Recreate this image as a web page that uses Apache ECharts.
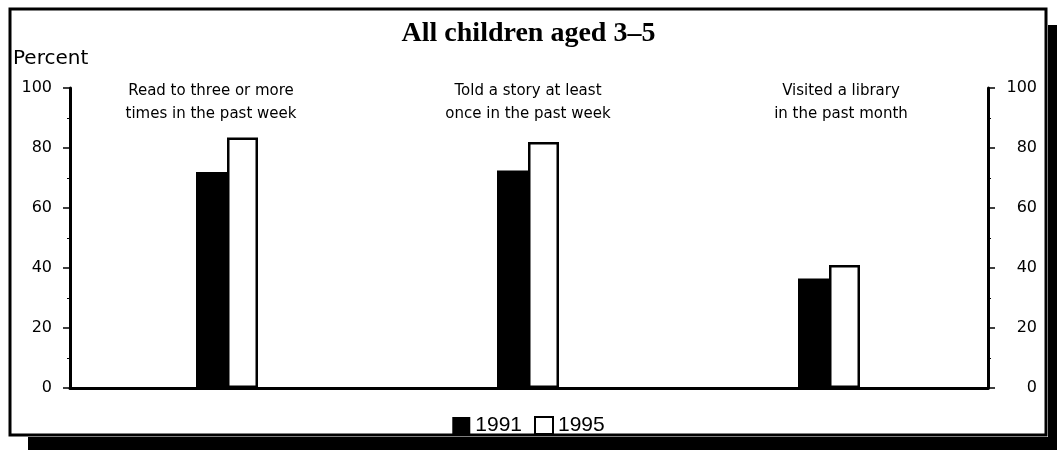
<!DOCTYPE html>
<html>
<head>
<meta charset="utf-8">
<script src="https://cdn.jsdelivr.net/npm/echarts@6/dist/echarts.min.js"></script>
<style>
	html, body { margin: 0; padding: 0; background: #fff; }
	#chart { width: 1057px; height: 450px; }
</style>
</head>
<body>
<div id="chart"></div>
<script>
// categories and values
var categories = [
	'Read to three or more\ntimes in the past week',
	'Told a story at least\nonce in the past week',
	'Visited a library\nin the past month'
];
var values1991 = [72, 72.5, 36.5];
var values1995 = [83.5, 82, 41];
var seriesNames = ['1991', '1995'];

// label nudges so the text sits where the original had it
var labelPads = [[0, 32, 0, 0], [0, 0, 0, 0], [0, 0, 0, 24]];

var sans = 'DejaVu Sans';

var myChart = echarts.init(document.getElementById('chart'), null, { renderer: 'canvas' });

var yAxisBase = {
	type: 'value',
	min: 0,
	max: 100,
	interval: 20,
	splitLine: { show: false },
	axisLine: { show: true, lineStyle: { color: '#000', width: 3 } },
	axisTick: { show: true, length: 7, lineStyle: { color: '#000', width: 1.5 } },
	minorTick: { show: true, splitNumber: 2, length: 3, lineStyle: { color: '#000', width: 1 } },
	axisLabel: { color: '#000', fontFamily: sans, fontSize: 16 }
};

var option = {
	backgroundColor: '#fff',
	animation: false,
	title: {
		text: 'All children aged 3\u20135',
		left: 'center',
		top: 15,
		textStyle: {
			fontFamily: 'Liberation Serif',
			fontWeight: 'bold',
			fontSize: 28,
			color: '#000'
		}
	},
	legend: {
		data: seriesNames,
		left: 'center',
		top: 410,
		itemWidth: 18,
		itemHeight: 17,
		itemGap: 12,
		icon: 'rect',
		textStyle: { color: '#000', fontFamily: 'Liberation Sans', fontSize: 21 }
	},
	// grid 0 carries the frame axes, grid 1 the bars (bands slightly narrower, as in the original)
	grid: [
		{ left: 70, right: 69, top: 88, bottom: 62, containLabel: false },
		{ left: 76.5, right: 77.5, top: 88, bottom: 62, containLabel: false }
	],
	xAxis: [{
		type: 'category',
		gridIndex: 0,
		data: categories,
		position: 'bottom',
		axisLine: { show: true, lineStyle: { color: '#000', width: 3 } },
		axisTick: { show: false },
		axisLabel: { show: false },
		splitLine: { show: false }
	}, {
		type: 'category',
		gridIndex: 1,
		data: categories.map(function (c, i) {
			return { value: c, textStyle: { padding: labelPads[i] } };
		}),
		position: 'top',
		offset: -38,
		axisLine: { show: false },
		axisTick: { show: false },
		splitLine: { show: false },
		axisLabel: {
			color: '#000',
			fontFamily: sans,
			fontSize: 15,
			lineHeight: 23,
			margin: 0,
			interval: 0
		}
	}, {
		type: 'category',
		gridIndex: 1,
		data: categories,
		position: 'bottom',
		show: false
	}],
	yAxis: [
		echarts.util.merge({ gridIndex: 0, position: 'left', axisLabel: { margin: 18 } }, yAxisBase),
		echarts.util.merge({ gridIndex: 0, position: 'right', axisLabel: { margin: 49, align: 'right' } }, yAxisBase),
		{ type: 'value', gridIndex: 1, min: 0, max: 100, interval: 20, show: false, splitLine: { show: false } }
	],
	graphic: [
		// drop shadow
		{ type: 'rect', z: -10, shape: { x: 1048, y: 25, width: 9, height: 425 }, style: { fill: '#000' } },
		{ type: 'rect', z: -10, shape: { x: 28, y: 437, width: 1029, height: 13 }, style: { fill: '#000' } },
		// frame
		{ type: 'rect', z: -5, shape: { x: 10, y: 9, width: 1036, height: 426 }, style: { fill: '#fff', stroke: '#000', lineWidth: 3 } },
		{ type: 'text', left: 13, top: 49, style: { text: 'Percent', fill: '#000', font: '20px "DejaVu Sans"' } }
	],
	series: [{
		name: seriesNames[0],
		type: 'bar',
		xAxisIndex: 2,
		yAxisIndex: 2,
		data: values1991,
		barWidth: 31,
		barGap: '0%',
		itemStyle: { color: '#000' }
	}, {
		name: seriesNames[1],
		type: 'bar',
		xAxisIndex: 2,
		yAxisIndex: 2,
		data: values1995,
		barWidth: 31,
		itemStyle: { color: '#fff', borderColor: '#000', borderWidth: 2.5 }
	}]
};

myChart.setOption(option);
window.onresize = myChart.resize;
</script>
</body>
</html>
